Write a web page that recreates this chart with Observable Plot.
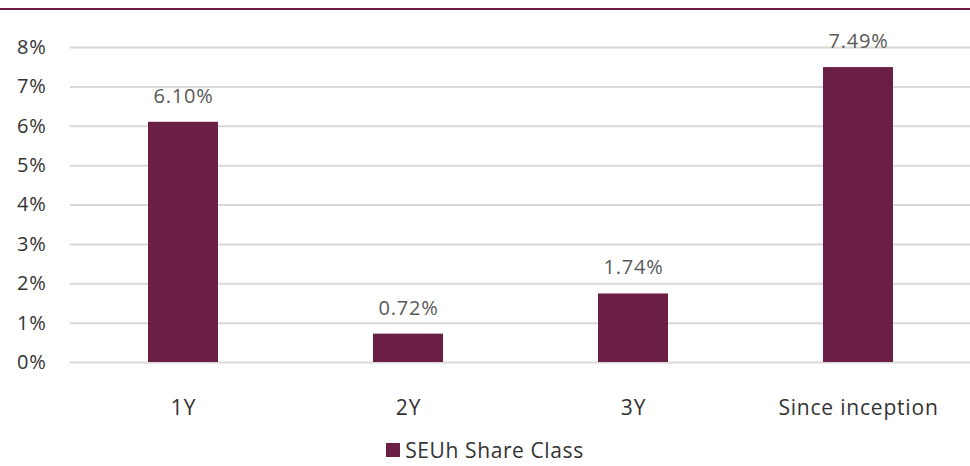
<!DOCTYPE html>
<html>
<head>
<meta charset="utf-8">
<script src="https://cdn.jsdelivr.net/npm/d3@7"></script>
<script src="https://cdn.jsdelivr.net/npm/@observablehq/plot@0.6"></script>
<style>
  html, body { margin: 0; padding: 0; background: #fff; width: 970px; height: 466px; overflow: hidden; }
  body { font-family: "Open Sans", sans-serif; }
  #topbar { height: 8px; border-bottom: 2px solid #6b1f45; }
  #legend { height: 28px; display: flex; justify-content: center; align-items: center; font-size: 21px; line-height: 28px; color: #333; margin-top: 0; letter-spacing: 0.6px; }
  #legend .sw { width: 14px; height: 14px; background: #6b1f45; margin-right: 5px; }
</style>
</head>
<body>
<div id="topbar"></div>
<div id="chart"></div>
<div id="legend"><span class="sw"></span><span id="legendText"></span></div>
<script>
const categories = ["1Y", "2Y", "3Y", "Since inception"];
const values = [6.10, 0.72, 1.74, 7.49];
const seriesName = "SEUh Share Class";
const yTicks = [0, 1, 2, 3, 4, 5, 6, 7, 8];

const data = categories.map((c, i) => ({ period: c, value: values[i] }));
const barColor = "#6b1f45";

const chart = Plot.plot({
  width: 970,
  height: 426,
  marginLeft: 70,
  marginRight: 0,
  marginTop: 37,
  marginBottom: 74,
  style: { fontFamily: "Open Sans, sans-serif", background: "#fff", letterSpacing: "0.8px", display: "block" },
  x: { domain: categories, paddingInner: 0.69, paddingOuter: 0.345, align: 0.5, label: null },
  y: { domain: [0, 8], label: null },
  marks: [
    Plot.gridY(yTicks, { stroke: "#d9d9d9", strokeOpacity: 1, strokeWidth: 2 }),
    Plot.barY(data, { x: "period", y: "value", fill: barColor }),
    Plot.text(data, {
      x: "period", y: "value",
      text: d => d.value.toFixed(2) + "%",
      dy: -26, fontSize: 20, fill: "#595959"
    }),
    Plot.axisY(yTicks, {
      tickSize: 0, tickPadding: 24, fontSize: 20, fill: "#333",
      tickFormat: d => d + "%"
    }),
    Plot.axisX({ tickSize: 0, tickPadding: 38, fontSize: 21, fill: "#333" })
  ]
});
document.getElementById("chart").appendChild(chart);
document.getElementById("legendText").textContent = seriesName;
</script>
</body>
</html>
